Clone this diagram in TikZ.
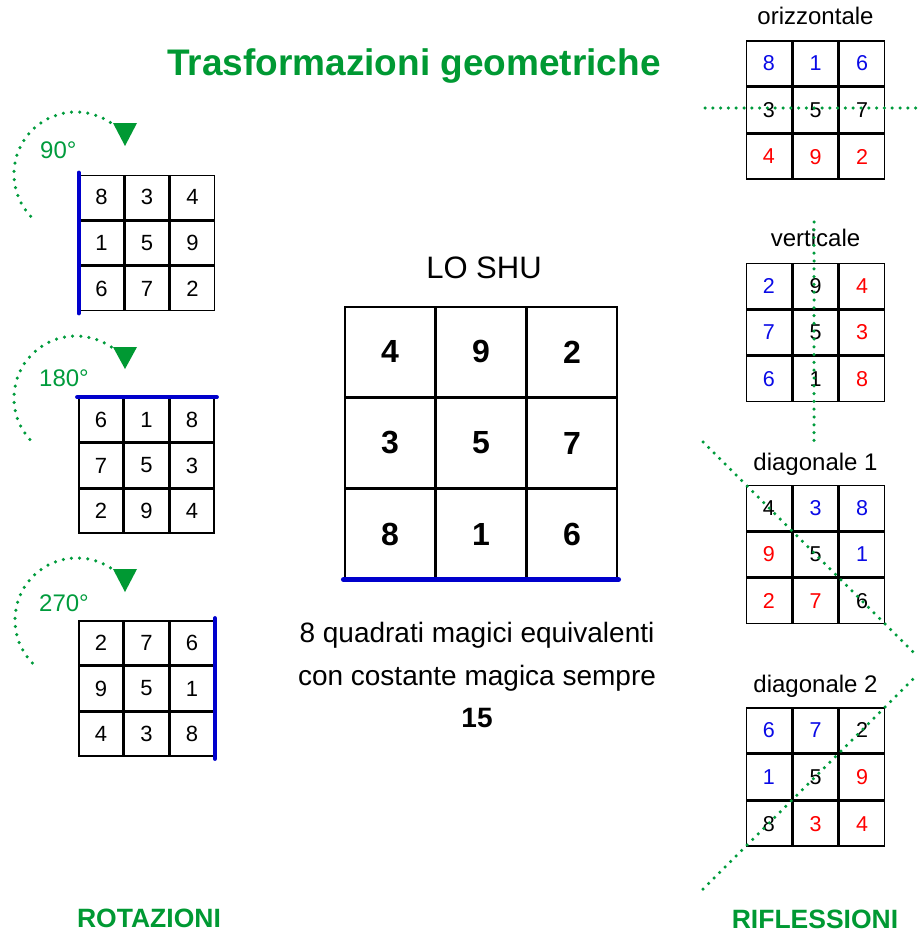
\documentclass[tikz,border=0pt]{standalone}
\usepackage{fontspec}
\setmainfont{Liberation Sans}
\usetikzlibrary{matrix}

\definecolor{titlegreen}{RGB}{0,153,51}
\definecolor{dotgreen}{RGB}{0,155,60}
\definecolor{edgeblue}{RGB}{0,0,204}
\definecolor{numblue}{RGB}{10,10,230}
\definecolor{numred}{RGB}{255,0,0}

\begin{document}
\begin{tikzpicture}[x=1pt,y=-1pt,
  smallcell/.style={draw, line width=1.6pt, minimum size=44pt, inner sep=0pt,
    outer sep=0pt, anchor=center, font=\fontsize{22}{22}\selectfont},
  reflcell/.style={smallcell, minimum size=45pt, font=\fontsize{21.5}{21.5}\selectfont},
  bigcell/.style={draw, line width=1.7pt, minimum size=89.33pt, inner sep=0pt,
    outer sep=0pt, anchor=center, font=\fontsize{32}{32}\selectfont\bfseries},
  grid3/.style={matrix of nodes, inner sep=0pt, outer sep=0pt,
    column sep=0pt, row sep=0pt},
  bl/.style={text=numblue},
  rd/.style={text=numred},
  mirrorline/.style={draw=dotgreen, line width=3.5pt, line cap=round,
    dash pattern=on 0pt off 7.8pt},
  turnarc/.style={mirrorline, dash pattern=on 0pt off 8.2pt},
  turnhead/.style={fill=titlegreen},
  blueside/.style={draw=edgeblue, line width=4pt, line cap=round},
  anglelabel/.style={anchor=base west, text=dotgreen, inner sep=0pt,
    font=\fontsize{24}{24}\selectfont},
  gridlabel/.style={anchor=base, inner sep=0pt, font=\fontsize{24}{24}\selectfont},
  heading/.style={anchor=base, inner sep=0pt, text=titlegreen,
    font=\fontsize{26.5}{26.5}\selectfont\bfseries},
  note/.style={anchor=base, inner sep=0pt, font=\fontsize{28}{28}\selectfont},
]
\useasboundingbox (0,0) rectangle (918,934);

% title
\node[anchor=base, inner sep=0pt, text=titlegreen,
  font=\fontsize{37}{37}\selectfont\bfseries] (title) at (414,75)
  {Trasformazioni geometriche};

% ---------- rotations ----------
\matrix (rotA) [grid3, nodes={smallcell}] at (147,243)
  {8 & 3 & 4\\ 1 & 5 & 9\\ 6 & 7 & 2\\};
\matrix (rotB) [grid3, nodes={smallcell}] at (146.5,465.5)
  {6 & 1 & 8\\ 7 & 5 & 3\\ 2 & 9 & 4\\};
\matrix (rotC) [grid3, nodes={smallcell}] at (146.5,688.5)
  {2 & 7 & 6\\ 9 & 5 & 1\\ 4 & 3 & 8\\};

\draw[blueside] ([yshift=2pt]rotA.north west) -- ([yshift=-2pt]rotA.south west);
\draw[blueside] ([xshift=-1pt]rotB.north west) -- ([xshift=2pt]rotB.north east);
\draw[blueside] ([yshift=2pt]rotC.north east) -- ([yshift=-2pt]rotC.south east);

% turning arrows
\draw[turnarc] ([shift={(137:62)}]76,174) arc[start angle=137, end angle=307, radius=62];
\fill[turnhead] (113,123) -- (137,123) -- (125,146) -- cycle;
\node[anglelabel] (angA) at (40,158) {90°};

\draw[turnarc] ([shift={(138:62)}]76,398) arc[start angle=138, end angle=305, radius=62];
\fill[turnhead] (113,347) -- (137,347) -- (125,369) -- cycle;
\node[anglelabel] (angB) at (39,386) {180°};

\draw[turnarc] ([shift={(136:62)}]77,620) arc[start angle=136, end angle=306, radius=62];
\fill[turnhead] (113,569) -- (137,569) -- (125,592) -- cycle;
\node[anglelabel] (angC) at (39,611) {270°};

\node[heading] (rotname) at (149,927) {ROTAZIONI};

% ---------- Lo Shu ----------
\node[anchor=base, inner sep=0pt, font=\fontsize{31}{31}\selectfont] (loshutitle)
  at (484,278) {LO SHU};
\matrix (loshu) [grid3, nodes={bigcell}] at (481,443)
  {4 & 9 & 2\\ 3 & 5 & 7\\ 8 & 1 & 6\\};
\draw[blueside, line width=5pt] ([xshift=-1pt]loshu.south west) -- ([xshift=1pt]loshu.south east);

\node[note] (noteA) at (477,642) {8 quadrati magici equivalenti};
\node[note] (noteB) at (477,685) {con costante magica sempre};
\node[note, font=\fontsize{28}{28}\selectfont\bfseries] (noteC) at (477,727) {15};

% ---------- reflections ----------
\matrix (refH) [grid3, nodes={reflcell}] at (815.5,110)
  {|[bl]| 8 & |[bl]| 1 & |[bl]| 6\\ 3 & 5 & 7\\ |[rd]| 4 & |[rd]| 9 & |[rd]| 2\\};
\matrix (refV) [grid3, nodes={reflcell}] at (815.5,332.5)
  {|[bl]| 2 & 9 & |[rd]| 4\\ |[bl]| 7 & 5 & |[rd]| 3\\ |[bl]| 6 & 1 & |[rd]| 8\\};
\matrix (refD) [grid3, nodes={reflcell}] at (815.5,554.5)
  {4 & |[bl]| 3 & |[bl]| 8\\ |[rd]| 9 & 5 & |[bl]| 1\\ |[rd]| 2 & |[rd]| 7 & 6\\};
\matrix (refE) [grid3, nodes={reflcell}] at (815.5,777)
  {|[bl]| 6 & |[bl]| 7 & 2\\ |[bl]| 1 & 5 & |[rd]| 9\\ 8 & |[rd]| 3 & |[rd]| 4\\};

\node[gridlabel] (labH) at ([yshift=16pt]refH.north) {orizzontale};
\node[gridlabel] (labV) at ([yshift=16pt]refV.north) {verticale};
\node[gridlabel] (labD) at ([yshift=14pt]refD.north) {diagonale 1};
\node[gridlabel] (labE) at ([yshift=15pt]refE.north) {diagonale 2};

% mirror axes
\coordinate (hL) at (705,108);
\coordinate (hR) at (918,108);
\coordinate (vT) at (814,222);
\coordinate (vB) at (814,442);
\coordinate (dT) at (703,442);
\coordinate (dB) at (918,657);
\coordinate (eB) at (703,889);
\coordinate (eT) at (918,674);
\draw[mirrorline] (hL) -- (hR);
\draw[mirrorline] (vT) -- (vB);
\draw[mirrorline] (dT) -- (dB);
\draw[mirrorline] (eB) -- (eT);

\node[heading] (refname) at (815,928) {RIFLESSIONI};
\end{tikzpicture}
\end{document}
